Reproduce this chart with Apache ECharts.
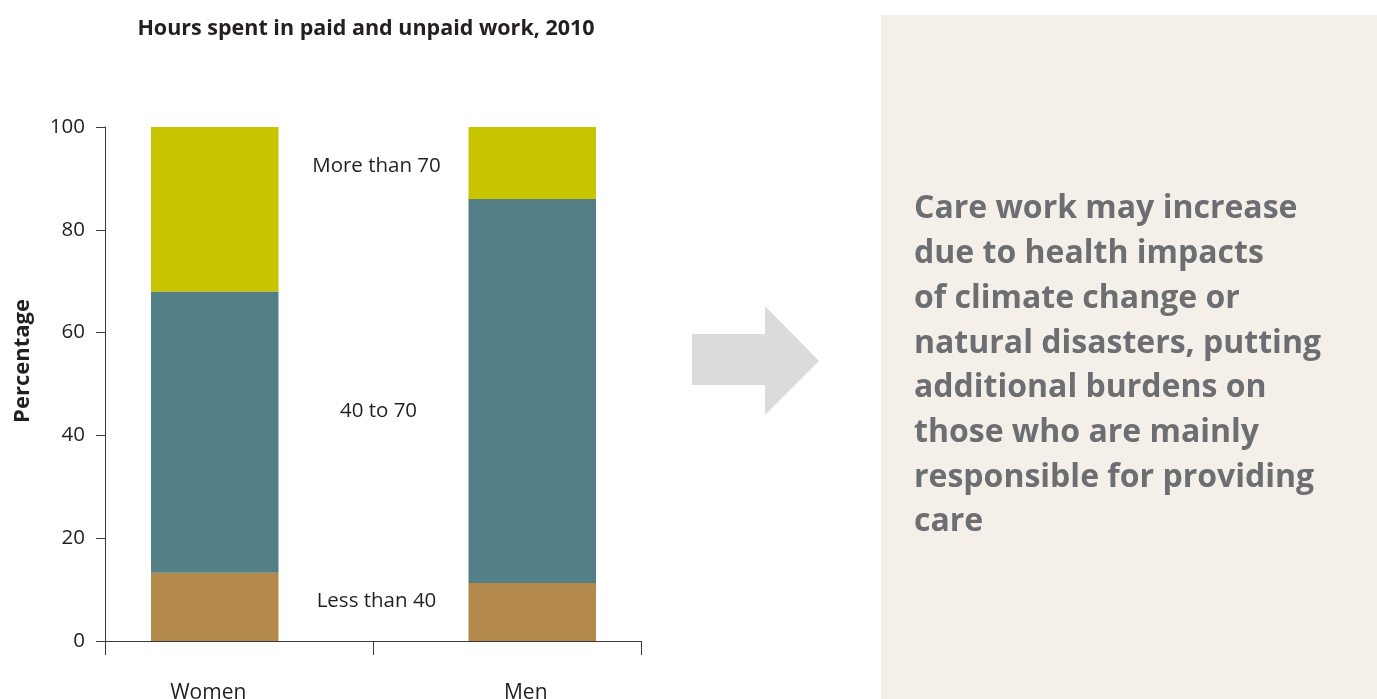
<!DOCTYPE html>
<html>
<head>
<meta charset="utf-8">
<script src="https://cdn.jsdelivr.net/npm/echarts@6/dist/echarts.min.js"></script>
<style>
  html, body { margin: 0; padding: 0; background: #ffffff; }
  #chart { width: 1377px; height: 699px; }
</style>
</head>
<body>
<div id="chart"></div>
<script>
// Hours spent in paid and unpaid work, 2010 (share of people, %)
const categories = ['Women', 'Men'];
const hourBands = ['Less than 40', '40 to 70', 'More than 70'];
const lessThan40 = [13.3, 11.3];
const from40to70 = [54.7, 74.7];
const moreThan70 = [32.0, 14.0];
const yTicks = [0, 20, 40, 60, 80, 100];

const bandColors = ['#B38A4B', '#557F87', '#C8C400'];
const bandValues = [lessThan40, from40to70, moreThan70];
// nudges for the band captions drawn between the two bars
const captionOffsets = [[0, -11], [2, 20], [0, 3]];

const note = 'Care work may increase\ndue to health impacts\nof climate change or\nnatural disasters, putting\nadditional burdens on\nthose who are mainly\nresponsible for providing\ncare';

const chart = echarts.init(document.getElementById('chart'));

const series = hourBands.map((name, i) => ({
  name: name,
  type: 'bar',
  stack: 'hours',
  xAxisIndex: 1,
  yAxisIndex: 1,
  barWidth: 127.5,
  data: bandValues[i],
  itemStyle: { color: bandColors[i] },
  silent: true,
  label: {
    show: true,
    position: 'left',
    distance: 92,
    align: 'center',
    verticalAlign: 'middle',
    offset: captionOffsets[i],
    fontFamily: 'Open Sans',
    fontSize: 20.5,
    color: '#231F20',
    formatter: p => (p.dataIndex === 1 ? p.seriesName : '')
  }
}));

chart.setOption({
  animation: false,
  backgroundColor: '#ffffff',
  title: {
    text: 'Hours spent in paid and unpaid work, 2010',
    left: 361,
    top: 13,
    textAlign: 'center',
    textStyle: { fontFamily: 'Open Sans', fontWeight: 'bold', fontSize: 21.5, color: '#231F20' }
  },
  grid: [
    { left: 105, top: 127, width: 536, height: 514, outerBoundsMode: 'none', containLabel: false },
    { left: 56, top: 127, width: 635, height: 514, outerBoundsMode: 'none', containLabel: false }
  ],
  xAxis: [
    {
      type: 'category',
      gridIndex: 0,
      data: ['', ''],
      axisLine: { show: true, lineStyle: { color: '#3a3a3a', width: 1 } },
      axisTick: { show: true, length: 14, lineStyle: { color: '#3a3a3a' } },
      axisLabel: { show: false }
    },
    {
      type: 'category',
      gridIndex: 1,
      data: categories,
      axisLine: { show: false },
      axisTick: { show: false },
      axisLabel: {
        margin: 42,
        padding: [0, 13, 0, 0],
        fontFamily: 'Open Sans',
        fontSize: 21,
        color: '#231F20'
      }
    }
  ],
  yAxis: [
    {
      type: 'value',
      gridIndex: 0,
      min: yTicks[0],
      max: yTicks[yTicks.length - 1],
      interval: 20,
      name: 'Percentage',
      nameLocation: 'middle',
      nameGap: 71,
      nameTextStyle: {
        fontFamily: 'Open Sans',
        fontWeight: 'bold',
        fontSize: 22,
        color: '#231F20',
        padding: [0, 0, 0, 46]
      },
      axisLine: { show: true, lineStyle: { color: '#3a3a3a', width: 1 } },
      axisTick: { show: true, length: 9, lineStyle: { color: '#3a3a3a' } },
      splitLine: { show: false },
      axisLabel: {
        margin: 20,
        fontFamily: 'Open Sans',
        fontSize: 20.5,
        color: '#231F20'
      }
    },
    {
      type: 'value',
      gridIndex: 1,
      min: 0,
      max: 100,
      show: false,
      splitLine: { show: false }
    }
  ],
  series: series,
  graphic: [
    {
      type: 'rect',
      silent: true,
      shape: { x: 881, y: 15, width: 496, height: 684 },
      style: { fill: '#F4F0E9' }
    },
    {
      type: 'polygon',
      silent: true,
      shape: {
        points: [[692, 334], [765, 334], [765, 306], [819, 361], [765, 415], [765, 385], [692, 385]]
      },
      style: { fill: '#DADBDC' }
    },
    {
      type: 'text',
      silent: true,
      left: 914,
      top: 187,
      style: {
        text: note,
        fontFamily: 'Open Sans',
        fontWeight: 'bold',
        fontSize: 32,
        lineHeight: 44.7,
        fill: '#6D6E71'
      }
    }
  ]
});
</script>
</body>
</html>
